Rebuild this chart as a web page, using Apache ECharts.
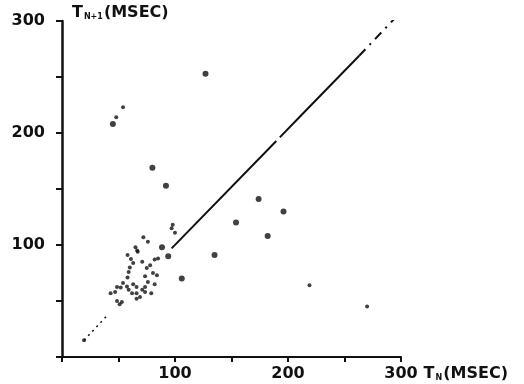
<!DOCTYPE html>
<html>
<head>
<meta charset="utf-8">
<script src="https://cdn.jsdelivr.net/npm/echarts@6/dist/echarts.min.js"></script>
<style>
html,body{margin:0;padding:0;background:#fff;}
#c{width:524px;height:384px;}
</style>
</head>
<body>
<div id="c"></div>
<script>
// Axis ticks / labels
var xTickLabels = [100, 200, 300];
var yTickLabels = [100, 200, 300];

// Isolated large points [T_N, T_N+1]
var isolatedPoints = [
  [45, 208], [80, 169], [92, 153], [127, 253], [174, 141], [196, 130],
  [154, 120], [182, 108], [135, 91], [106, 70], [94, 90], [88.5, 98]
];
// Small points
var smallPoints = [
  [48, 214], [54, 223], [219, 64], [270, 45], [19.5, 15]
];
// Dense cluster of points near the diagonal
var clusterPoints = [
  [67, 94], [58, 91], [61, 87.5], [63, 84], [71, 85], [78, 82], [82, 87],
  [60, 80], [59, 76], [58, 71], [75, 79.5], [80.5, 75], [84, 73], [73.5, 72],
  [76, 67], [82, 65], [54, 66], [57.5, 63], [48.7, 62.5], [52, 62], [63, 65],
  [66, 62.5], [73.5, 62.5], [59, 60], [62, 57], [71, 60], [73.5, 58], [43, 57],
  [47, 58], [79, 57], [66, 57], [69, 53.5], [48.7, 50], [51, 47], [53, 49],
  [66, 52], [72, 107], [76, 103], [97, 115], [100, 111], [98, 118],
  [65, 98], [66.5, 95], [85, 88]
];
// Reference line T_N+1 = T_N (hand drawn), split by dash style
var refLineDotted = [[19.5, 15], [40, 37]];
var refLineSolid = [[97, 97], [210, 214], [263, 269]];
var refLineDashDot = [[263, 269], [297, 305]];

var chart = echarts.init(document.getElementById('c'));
var ink = '#111';
var font = 'DejaVu Sans';
chart.setOption({
  animation: false,
  backgroundColor: '#fff',
  grid: {left: 62, top: 21, width: 339, height: 336, containLabel: false},
  xAxis: {
    type: 'value', min: 0, max: 300, interval: 50,
    name: '{t|T}{s|N}{t|(MSEC)}',
    nameLocation: 'end', nameGap: 22,
    nameTextStyle: {
      align: 'left', verticalAlign: 'top', padding: [9, 0, 0, 0],
      rich: {
        t: {fontFamily: font, fontSize: 16, fontWeight: 'bold', color: ink},
        s: {fontFamily: font, fontSize: 8, fontWeight: 'bold', color: ink, padding: [8, 1, 0, 1]}
      }
    },
    axisLine: {show: true, lineStyle: {color: ink, width: 2}},
    axisTick: {show: true, inside: false, length: 5, lineStyle: {color: ink, width: 2}},
    axisLabel: {
      margin: 9, fontFamily: font, fontSize: 16, fontWeight: 'bold', color: ink,
      formatter: function (v) { return xTickLabels.indexOf(v) >= 0 ? String(v) : ''; }
    },
    splitLine: {show: false}
  },
  yAxis: {
    type: 'value', min: 0, max: 300, interval: 50,
    name: '{t|T}{s|N+1}{t|(MSEC)}',
    nameLocation: 'end', nameGap: 8,
    nameTextStyle: {
      align: 'left', verticalAlign: 'middle', padding: [0, 0, 0, 10],
      rich: {
        t: {fontFamily: font, fontSize: 16, fontWeight: 'bold', color: ink},
        s: {fontFamily: font, fontSize: 8, fontWeight: 'bold', color: ink, padding: [8, 1, 0, 1]}
      }
    },
    axisLine: {show: true, lineStyle: {color: ink, width: 2.5}},
    axisTick: {show: true, inside: false, length: 6, lineStyle: {color: ink, width: 2}},
    axisLabel: {
      margin: 17, fontFamily: font, fontSize: 16, fontWeight: 'bold', color: ink,
      formatter: function (v) { return yTickLabels.indexOf(v) >= 0 ? String(v) : ''; }
    },
    splitLine: {show: false}
  },
  series: [
    {type: 'line', data: refLineDotted, showSymbol: false, symbol: 'none',
     lineStyle: {color: ink, width: 1.5, type: [2, 4]}},
    {type: 'line', data: refLineSolid, showSymbol: false, symbol: 'none',
     lineStyle: {color: ink, width: 2, type: [150, 5]}},
    {type: 'line', data: refLineDashDot, showSymbol: false, symbol: 'none',
     lineStyle: {color: ink, width: 2, type: [9, 6, 2, 6]}},
    {type: 'scatter', data: isolatedPoints, symbol: 'circle', symbolSize: 6,
     itemStyle: {color: ink}},
    {type: 'scatter', data: smallPoints, symbol: 'circle', symbolSize: 4,
     itemStyle: {color: ink}},
    {type: 'scatter', data: clusterPoints, symbol: 'circle', symbolSize: 4,
     itemStyle: {color: ink}}
  ]
});
</script>
</body>
</html>
